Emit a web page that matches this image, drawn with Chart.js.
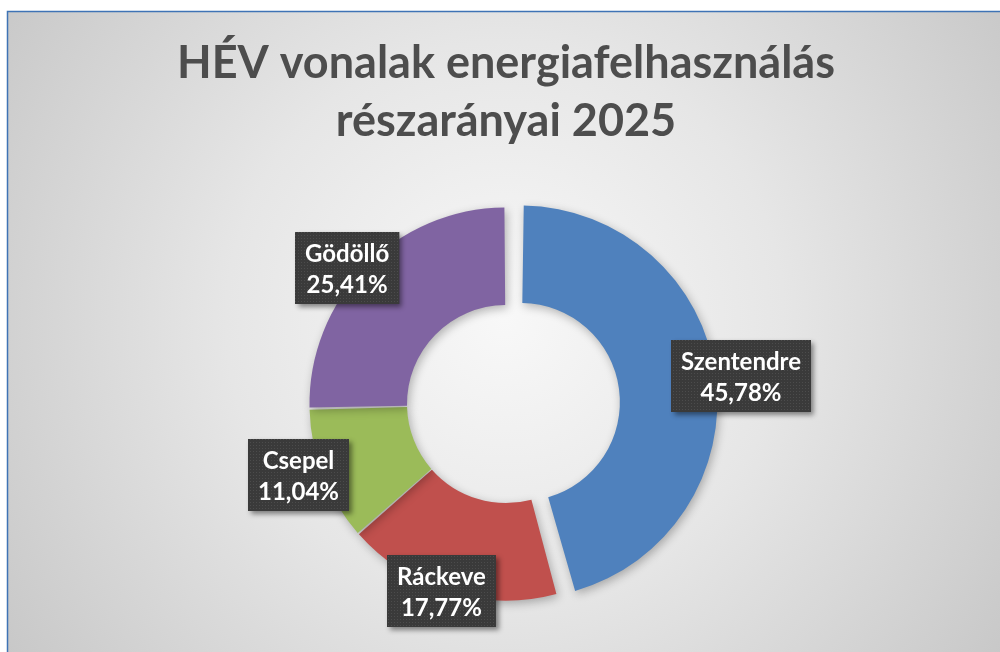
<!DOCTYPE html>
<html>
<head>
<meta charset="utf-8">
<script src="https://cdn.jsdelivr.net/npm/chart.js@4.4.1/dist/chart.umd.min.js"></script>
<style>
  html, body { margin: 0; padding: 0; background: #fff; }
  #wrap { width: 1000px; height: 652px; position: relative; }
</style>
</head>
<body>
<div id="wrap"><canvas id="hev-chart"></canvas></div>
<script>
// HÉV lines - share of energy use, 2025
const lines = ['Szentendre', 'Ráckeve', 'Csepel', 'Gödöllő'];
const shares = [45.78, 17.77, 11.04, 25.41];
const titleLines = ['HÉV vonalak energiafelhasználás', 'részarányai 2025'];

const LABEL_FONT = 'bold 24px Lato';
const EXPLODE = [15, 0, 0, 0]; // px a slice is pulled out along its middle

function formatShare(v) {
  return v.toFixed(2).replace('.', ',') + '%';
}

// dotted texture for the label boxes
function makeDotPattern(ctx) {
  const c = document.createElement('canvas');
  c.width = 3;
  c.height = 3;
  const p = c.getContext('2d');
  p.fillStyle = '#3a3a3a';
  p.fillRect(0, 0, 3, 3);
  p.fillStyle = '#4c4c4c';
  p.fillRect(1, 1, 1, 1);
  return ctx.createPattern(c, 'repeat');
}

function midAngle(arc) {
  const p = arc.getProps(['startAngle', 'endAngle'], true);
  return (p.startAngle + p.endAngle) / 2;
}

const backgroundPlugin = {
  id: 'background',
  beforeDraw(chart) {
    const ctx = chart.ctx;
    const w = chart.width, h = chart.height;
    ctx.save();
    ctx.fillStyle = '#ffffff';
    ctx.fillRect(0, 0, w, h);
    const g = ctx.createRadialGradient(505, 320, 0, 505, 320, 620);
    g.addColorStop(0, '#f8f8f8');
    g.addColorStop(0.45, '#e6e6e6');
    g.addColorStop(1, '#c6c6c6');
    ctx.fillStyle = g;
    ctx.fillRect(8, 12, w - 8, h - 12);
    ctx.strokeStyle = '#3f73b5';
    ctx.lineWidth = 1.5;
    ctx.beginPath();
    ctx.moveTo(7.5, h);
    ctx.lineTo(7.5, 11.5);
    ctx.lineTo(w, 11.5);
    ctx.stroke();
    ctx.restore();
  }
};

// draws the ring with a soft shadow and the exploded first slice
const explodePlugin = {
  id: 'explodedRing',
  beforeDatasetDraw(chart, args) {
    const ctx = chart.ctx;
    ctx.save();
    ctx.shadowColor = 'rgba(0, 0, 0, 0.28)';
    ctx.shadowBlur = 10;
    ctx.shadowOffsetX = 2;
    ctx.shadowOffsetY = 3;
    args.meta.data.forEach((arc, i) => {
      const mid = midAngle(arc);
      const d = EXPLODE[i] || 0;
      ctx.save();
      ctx.translate(Math.cos(mid) * d, Math.sin(mid) * d);
      arc.draw(ctx, chart.chartArea);
      ctx.restore();
    });
    ctx.restore();
    return false;
  }
};

const boxLabelPlugin = {
  id: 'boxLabels',
  afterDatasetsDraw(chart) {
    const ctx = chart.ctx;
    const meta = chart.getDatasetMeta(0);
    const area = chart.chartArea;
    const pattern = makeDotPattern(ctx);
    ctx.save();
    ctx.font = LABEL_FONT;
    meta.data.forEach((arc, i) => {
      const p = arc.getProps(['x', 'y', 'outerRadius'], true);
      const mid = midAngle(arc);
      const shift = EXPLODE[i] || 0;
      // best-fit style: a bit further out sideways than up/down
      const rx = p.outerRadius * 1.14, ry = p.outerRadius;
      const cx = p.x + Math.cos(mid) * (shift + rx);
      let cy = p.y + Math.sin(mid) * (shift + ry);

      const l1 = lines[i];
      const l2 = formatShare(shares[i]);
      const bw = Math.max(ctx.measureText(l1).width, ctx.measureText(l2).width) + 20;
      const bh = 72;
      cy = Math.min(cy, area.bottom - bh / 2);
      const bx = Math.round(cx - bw / 2), by = Math.round(cy - bh / 2);

      ctx.save();
      ctx.shadowColor = 'rgba(0, 0, 0, 0.45)';
      ctx.shadowBlur = 5;
      ctx.shadowOffsetX = 3;
      ctx.shadowOffsetY = 3;
      ctx.fillStyle = '#3a3a3a';
      ctx.fillRect(bx, by, bw, bh);
      ctx.restore();
      ctx.fillStyle = pattern;
      ctx.fillRect(bx, by, bw, bh);

      ctx.fillStyle = '#ffffff';
      ctx.textAlign = 'center';
      ctx.textBaseline = 'alphabetic';
      ctx.fillText(l1, bx + bw / 2, by + 30);
      ctx.fillText(l2, bx + bw / 2, by + 61);
    });
    ctx.restore();
  }
};

const ctx = document.getElementById('hev-chart').getContext('2d');

new Chart(ctx, {
  type: 'doughnut',
  data: {
    labels: lines,
    datasets: [{
      data: shares,
      backgroundColor: ['#4f81bd', '#c0504d', '#9bbb59', '#8064a2'],
      borderWidth: 0,
      spacing: 3
    }]
  },
  options: {
    responsive: true,
    maintainAspectRatio: false,
    animation: false,
    radius: 195,
    cutout: '50%',
    layout: {
      padding: { left: 12, right: 0, top: 0, bottom: 18 }
    },
    plugins: {
      legend: { display: false },
      tooltip: { enabled: false },
      title: {
        display: true,
        text: titleLines,
        color: '#4d4d4d',
        font: { family: 'Lato', size: 45, weight: 'bold', lineHeight: 1.29 },
        padding: { top: 34, bottom: 24 }
      }
    }
  },
  plugins: [backgroundPlugin, explodePlugin, boxLabelPlugin]
});
</script>
</body>
</html>
